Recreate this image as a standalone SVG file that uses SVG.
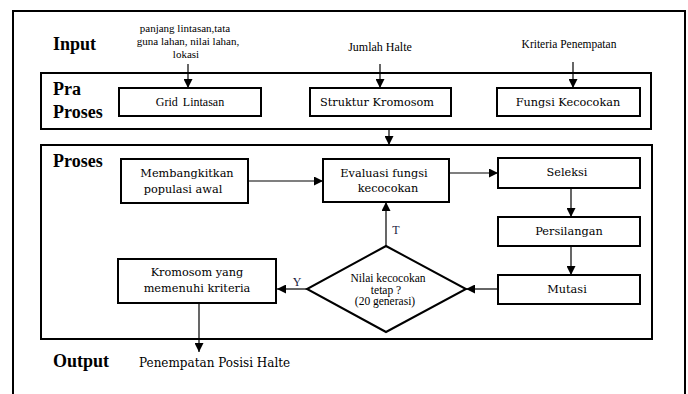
<svg xmlns="http://www.w3.org/2000/svg" width="688" height="394" viewBox="0 0 688 394">
<style>
.frame{fill:none;stroke:#000;stroke-width:2}
.box{fill:#fff;stroke:#000;stroke-width:2}
.lbl{font-family:'DejaVu Serif',serif;font-size:11.3px;fill:#000;text-anchor:middle}
.tm{font-family:'Liberation Serif','Times New Roman',serif;font-size:12px;fill:#000;text-anchor:middle}
.sm{font-family:'Liberation Serif','Times New Roman',serif;font-size:11px;fill:#000;text-anchor:middle}
.hd{font-family:'Liberation Serif','Times New Roman',serif;font-size:18px;font-weight:bold;fill:#000}
.con{fill:none;stroke:#000;stroke-width:1.2}
</style>
<defs>
<marker id="ah" viewBox="0 0 10 10" refX="10" refY="5" markerWidth="10" markerHeight="9" markerUnits="userSpaceOnUse" orient="auto">
<path d="M0,0 L10,5 L0,10 Z" fill="#000"/>
</marker>
</defs>
<rect width="688" height="394" fill="#fff"/>
<path class="frame" d="M13,400 V11 H685 V400"/>
<g id="sections">
<rect id="praproses" class="frame" x="41" y="73" width="610" height="56"/>
<rect id="proses" class="frame" x="41" y="145" width="611" height="194"/>
</g>
<g id="headings">
<text class="hd" x="53" y="50">Input</text>
<text class="hd" x="53" y="95">Pra</text>
<text class="hd" x="53" y="118">Proses</text>
<text class="hd" x="53" y="167">Proses</text>
<text class="hd" x="53" y="367">Output</text>
</g>
<g id="inputs">
<text class="sm" x="185" y="32">panjang lintasan,tata</text>
<text class="sm" x="188" y="45">guna lahan, nilai lahan,</text>
<text class="sm" x="186" y="58">lokasi</text>
<text class="tm" x="380" y="51">Jumlah Halte</text>
<text class="tm" x="569" y="48" style="font-size:11.5px">Kriteria Penempatan</text>
</g>
<g id="grid"><rect class="box" x="119" y="88" width="142" height="28"/><text class="tm" x="190" y="106" style="word-spacing:2px">Grid Lintasan</text></g>
<g id="struktur"><rect class="box" x="310" y="88" width="141" height="28"/><text class="lbl" x="377" y="106">Struktur Kromosom</text></g>
<g id="fungsi"><rect class="box" x="497" y="88" width="143" height="28"/><text class="lbl" x="568" y="106">Fungsi Kecocokan</text></g>
<g id="membangkitkan"><rect class="box" x="121" y="159" width="127" height="44"/><text class="lbl" x="187" y="177">Membangkitkan</text><text class="lbl" x="183" y="193">populasi awal</text></g>
<g id="evaluasi"><rect class="box" x="323" y="159" width="126" height="43"/><text class="lbl" x="384" y="177">Evaluasi fungsi</text><text class="lbl" x="388" y="192">kecocokan</text></g>
<g id="seleksi"><rect class="box" x="498" y="158" width="142" height="30"/><text class="lbl" x="567" y="176">Seleksi</text></g>
<g id="persilangan"><rect class="box" x="498" y="217" width="142" height="29"/><text class="lbl" x="569" y="235">Persilangan</text></g>
<g id="mutasi"><rect class="box" x="498" y="275" width="142" height="29"/><text class="lbl" x="567" y="293">Mutasi</text></g>
<g id="keputusan"><path class="box" d="M386,246 L466,289 L386,332 L307,289 Z"/><text class="tm" x="388" y="282" style="font-size:11.5px">Nilai kecocokan</text><text class="tm" x="386" y="293.5" style="font-size:11.5px">tetap ?</text><text class="tm" x="385" y="305" style="font-size:11.5px">(20 generasi)</text></g>
<g id="kromosom"><rect class="box" x="118" y="259" width="158" height="44"/><text class="lbl" x="197" y="276">Kromosom yang</text><text class="lbl" x="197" y="292">memenuhi kriteria</text></g>
<g id="output"><text class="lbl" x="139" y="367" style="text-anchor:start;font-size:12px">Penempatan Posisi Halte</text></g>
<g id="connectors">
<line class="con" x1="188" y1="64" x2="188" y2="88" marker-end="url(#ah)"/>
<line class="con" x1="380" y1="64" x2="380" y2="88" marker-end="url(#ah)"/>
<line class="con" x1="573" y1="62" x2="573" y2="88" marker-end="url(#ah)"/>
<line class="con" x1="389" y1="129" x2="389" y2="145" marker-end="url(#ah)"/>
<line class="con" x1="248" y1="181" x2="323" y2="181" marker-end="url(#ah)"/>
<line class="con" x1="449" y1="173" x2="498" y2="173" marker-end="url(#ah)"/>
<line class="con" x1="571" y1="188" x2="571" y2="217" marker-end="url(#ah)"/>
<line class="con" x1="571" y1="246" x2="571" y2="275" marker-end="url(#ah)"/>
<line class="con" x1="498" y1="289" x2="466" y2="289" marker-end="url(#ah)"/>
<line class="con" x1="386" y1="246" x2="386" y2="202" marker-end="url(#ah)"/>
<line class="con" x1="307" y1="289" x2="277" y2="289" marker-end="url(#ah)"/>
<line class="con" x1="199" y1="303" x2="199" y2="352" marker-end="url(#ah)"/>
<text class="tm" x="396" y="234" style="fill:#1a1a40">T</text>
<text class="tm" x="297" y="286" style="fill:#1a1a40">Y</text>
</g>
</svg>
